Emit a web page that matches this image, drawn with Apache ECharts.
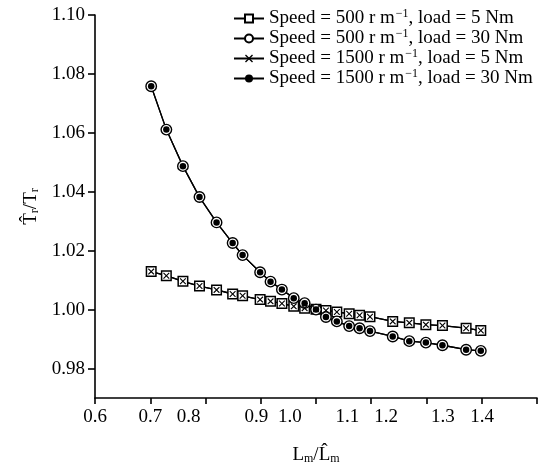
<!DOCTYPE html>
<html>
<head>
<meta charset="utf-8">
<script src="https://cdn.jsdelivr.net/npm/echarts@6/dist/echarts.min.js"></script>
<style>html,body{margin:0;padding:0;background:#fff;}#c{width:542px;height:470px;}</style>
</head>
<body>
<div id="c"></div>
<script>
// ---- data ----
const ratioL = [0.702, 0.734, 0.769, 0.804, 0.840, 0.874, 0.895, 0.932, 0.954, 0.978, 1.003, 1.026,
                1.050, 1.071, 1.094, 1.120, 1.142, 1.164, 1.212, 1.247, 1.282, 1.317, 1.367, 1.398];
const s500_5   = [1.0129, 1.0115, 1.0096, 1.0080, 1.0067, 1.0053, 1.0047, 1.0034, 1.0028, 1.0021, 1.0011, 1.0005,
                  1.0001, 0.9997, 0.9992, 0.9986, 0.9981, 0.9976, 0.9960, 0.9955, 0.9949, 0.9946, 0.9937, 0.9929];
const s500_30  = [1.0758, 1.0611, 1.0487, 1.0382, 1.0296, 1.0226, 1.0185, 1.0127, 1.0095, 1.0068, 1.0039, 1.0022,
                  1.0000, 0.9975, 0.9960, 0.9944, 0.9937, 0.9927, 0.9909, 0.9893, 0.9888, 0.9879, 0.9864, 0.9860];
const s1500_5  = [1.0129, 1.0115, 1.0096, 1.0080, 1.0067, 1.0053, 1.0047, 1.0034, 1.0028, 1.0021, 1.0011, 1.0005,
                  1.0001, 0.9997, 0.9992, 0.9986, 0.9981, 0.9976, 0.9960, 0.9955, 0.9949, 0.9946, 0.9937, 0.9929];
const s1500_30 = [1.0758, 1.0611, 1.0487, 1.0382, 1.0296, 1.0226, 1.0185, 1.0127, 1.0095, 1.0068, 1.0039, 1.0022,
                  1.0000, 0.9975, 0.9960, 0.9944, 0.9937, 0.9927, 0.9909, 0.9893, 0.9888, 0.9879, 0.9864, 0.9860];
const seriesNames = ['Speed = 500 r m−1, load = 5 Nm', 'Speed = 500 r m−1, load = 30 Nm',
                     'Speed = 1500 r m−1, load = 5 Nm', 'Speed = 1500 r m−1, load = 30 Nm'];
// x tick labels, and the axis value at which each one sits in the picture
const xTickLabels = ['0.6', '0.7', '0.8', '0.9', '1.0', '1.1', '1.2', '1.3', '1.4'];
const xLabelAt    = [0.5834, 0.700, 0.781, 0.924, 0.995, 1.116, 1.198, 1.318, 1.401];
const yTickValues = [0.98, 1.00, 1.02, 1.04, 1.06, 1.08, 1.10];

// ---- chart ----
const FONT = '"Liberation Serif", "Times New Roman", serif';
const FS = 19;
const X_MIN = 0.7 - 0.7 / 6, X_MAX = 1.4 + 0.7 / 6;
const xTickValues = [];
for (let k = 0; k <= 8; k++) xTickValues.push(X_MIN + k * (X_MAX - X_MIN) / 8);

const crossPath = 'path://M0,1.2 L1.2,0 L5,3.8 L8.8,0 L10,1.2 L6.2,5 L10,8.8 L8.8,10 L5,6.2 L1.2,10 L0,8.8 L3.8,5 Z';
const pts = arr => ratioL.map((x, i) => [x, arr[i]]);
const lineStyle = { color: '#000', width: 1.3 };

const chart = echarts.init(document.getElementById('c'), null, { renderer: 'canvas' });
chart.setOption({
  animation: false,
  backgroundColor: '#fff',
  textStyle: { fontFamily: FONT },
  grid: { left: 95, right: 5, top: 15, bottom: 70, containLabel: false },
  legend: {
    orient: 'vertical', left: 233, top: 8, padding: 0, itemWidth: 30, itemHeight: 10, itemGap: -1,
    textStyle: { fontFamily: FONT, fontSize: FS, color: '#000', lineHeight: 19,
      rich: { a: { fontFamily: FONT, fontSize: FS, color: '#000', lineHeight: 19 },
              sup: { fontFamily: FONT, fontSize: 12, color: '#000', padding: [0, 0, 9, 1], lineHeight: 12 } } },
    formatter: n => { const p = n.split('−1'); return '{a|' + p[0] + '}{sup|−1}{a|' + p[1] + '}'; },
    data: seriesNames
  },
  xAxis: {
    type: 'value', min: X_MIN, max: X_MAX,
    name: '{a|L}{s|m}{a|/L̂}{s|m}', nameLocation: 'middle', nameGap: 47,
    nameTextStyle: { rich: { a: { fontFamily: FONT, fontSize: FS, color: '#000' },
                             s: { fontFamily: FONT, fontSize: 12, color: '#000', padding: [8, 0, 0, 0] } } },
    axisLine: { lineStyle: { color: '#000', width: 1.6 } },
    axisTick: { show: true, inside: false, length: 6, customValues: xTickValues, lineStyle: { color: '#000', width: 1.6 } },
    axisLabel: { customValues: xLabelAt, margin: 10, fontFamily: FONT, fontSize: FS, color: '#000',
      formatter: v => { const i = xLabelAt.findIndex(p => Math.abs(p - v) < 1e-9); return i >= 0 ? xTickLabels[i] : ''; } },
    splitLine: { show: false }
  },
  yAxis: {
    type: 'value', min: 0.97, max: 1.10,
    name: '{a|T̂}{s|r}{a|/T}{s|r}', nameLocation: 'middle', nameGap: 50, nameRotate: 90,
    nameTextStyle: { rich: { a: { fontFamily: FONT, fontSize: FS, color: '#000' },
                             s: { fontFamily: FONT, fontSize: 12, color: '#000', padding: [8, 0, 0, 0] } } },
    axisLine: { show: true, lineStyle: { color: '#000', width: 1.6 } },
    axisTick: { show: true, length: 7, customValues: yTickValues, lineStyle: { color: '#000', width: 1.6 } },
    axisLabel: { customValues: yTickValues, margin: 10, fontFamily: FONT, fontSize: FS, color: '#000',
      formatter: v => v.toFixed(2) },
    splitLine: { show: false }
  },
  series: [
    { name: seriesNames[0], type: 'line', data: pts(s500_5), symbol: 'rect', symbolSize: 9.5,
      itemStyle: { color: '#fff', borderColor: '#000', borderWidth: 1.5 }, lineStyle },
    { name: seriesNames[1], type: 'line', data: pts(s500_30), symbol: 'circle', symbolSize: 10.5,
      itemStyle: { color: '#fff', borderColor: '#000', borderWidth: 1.4 }, lineStyle },
    { name: seriesNames[2], type: 'line', data: pts(s1500_5), symbol: crossPath, symbolSize: 6.5,
      itemStyle: { color: '#000', borderWidth: 0 }, lineStyle },
    { name: seriesNames[3], type: 'line', data: pts(s1500_30), symbol: 'circle', symbolSize: 6.5,
      itemStyle: { color: '#000', borderWidth: 0 }, lineStyle }
  ]
});
</script>
</body>
</html>
